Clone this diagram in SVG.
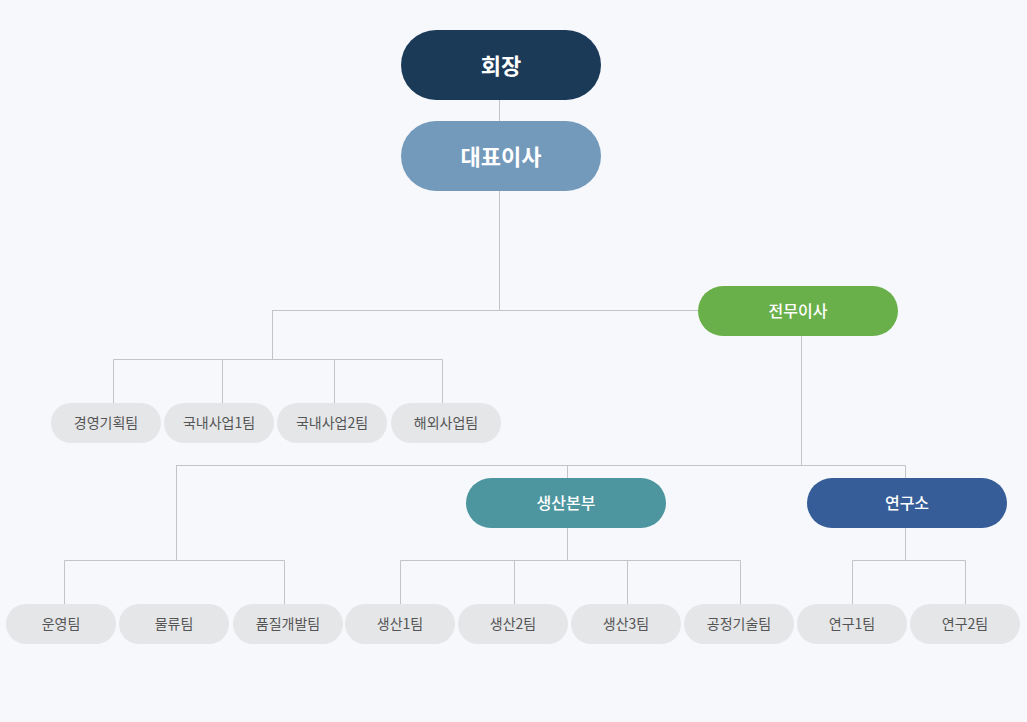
<svg xmlns="http://www.w3.org/2000/svg" width="1027" height="722" viewBox="0 0 1027 722">
<style>
.bg{fill:#f7f8fc}
.ln{stroke:#c3c3c8;stroke-width:1;fill:none}
.big{font-family:"Noto Sans CJK KR","Noto Sans",sans-serif;font-size:22px;font-weight:bold;fill:#fff;text-anchor:middle;dominant-baseline:central}
.mid{font-family:"Noto Sans CJK KR","Noto Sans",sans-serif;font-size:16px;font-weight:500;fill:#fff;text-anchor:middle;dominant-baseline:central}
.sm rect{fill:#e5e6e8}
.sm text{font-family:"Noto Sans CJK KR","Noto Sans",sans-serif;font-size:14px;fill:#555;text-anchor:middle;dominant-baseline:central}
</style>
<rect class="bg" x="0" y="0" width="1027" height="722"/>
<g id="connectors" class="ln">
<path d="M499.5 100V121M499.5 191V310"/>
<path d="M272.5 310.5H698"/>
<path d="M272.5 310V359.5M113.5 403V359.5H442.5V403M222.5 359V403M334.5 359V403"/>
<path d="M801.5 336V465.5M176.5 465.5H905.5V478M567.5 465V478"/>
<path d="M176.5 465V560.5M64.5 604V560.5H284.5V604"/>
<path d="M567.5 528V560.5M400.5 604V560.5H740.5V604M514.5 560V604M627.5 560V604"/>
<path d="M905.5 528V560.5M852.5 604V560.5H965.5V604"/>
</g>
<g id="n-chairman"><rect x="401" y="30" width="200" height="70" rx="35" fill="#1b3a58"/><text class="big" x="501" y="64">회장</text></g>
<g id="n-ceo"><rect x="401" y="121" width="200" height="70" rx="35" fill="#7399bb"/><text class="big" x="501" y="155">대표이사</text></g>
<g id="n-md"><rect x="698" y="286" width="200" height="50" rx="25" fill="#6ab04a"/><text class="mid" x="798" y="310">전무이사</text></g>
<g id="n-prod"><rect x="466" y="478" width="200" height="50" rx="25" fill="#4d96a0"/><text class="mid" x="566" y="502">생산본부</text></g>
<g id="n-lab"><rect x="807" y="478" width="200" height="50" rx="25" fill="#365d98"/><text class="mid" x="907" y="502">연구소</text></g>
<g id="n-t1" class="sm"><rect x="51" y="403" width="110" height="40" rx="20"/><text x="106" y="422">경영기획팀</text></g>
<g id="n-t2" class="sm"><rect x="164" y="403" width="110" height="40" rx="20"/><text x="219" y="422">국내사업1팀</text></g>
<g id="n-t3" class="sm"><rect x="277" y="403" width="110" height="40" rx="20"/><text x="332" y="422">국내사업2팀</text></g>
<g id="n-t4" class="sm"><rect x="391" y="403" width="110" height="40" rx="20"/><text x="446" y="422">해외사업팀</text></g>
<g id="n-b1" class="sm"><rect x="6" y="604" width="110" height="40" rx="20"/><text x="61" y="623">운영팀</text></g>
<g id="n-b2" class="sm"><rect x="119" y="604" width="110" height="40" rx="20"/><text x="174" y="623">물류팀</text></g>
<g id="n-b3" class="sm"><rect x="233" y="604" width="110" height="40" rx="20"/><text x="288" y="623">품질개발팀</text></g>
<g id="n-b4" class="sm"><rect x="345" y="604" width="110" height="40" rx="20"/><text x="400" y="623">생산1팀</text></g>
<g id="n-b5" class="sm"><rect x="458" y="604" width="110" height="40" rx="20"/><text x="513" y="623">생산2팀</text></g>
<g id="n-b6" class="sm"><rect x="571" y="604" width="110" height="40" rx="20"/><text x="626" y="623">생산3팀</text></g>
<g id="n-b7" class="sm"><rect x="684" y="604" width="110" height="40" rx="20"/><text x="739" y="623">공정기술팀</text></g>
<g id="n-b8" class="sm"><rect x="797" y="604" width="110" height="40" rx="20"/><text x="852" y="623">연구1팀</text></g>
<g id="n-b9" class="sm"><rect x="910" y="604" width="110" height="40" rx="20"/><text x="965" y="623">연구2팀</text></g>
</svg>
